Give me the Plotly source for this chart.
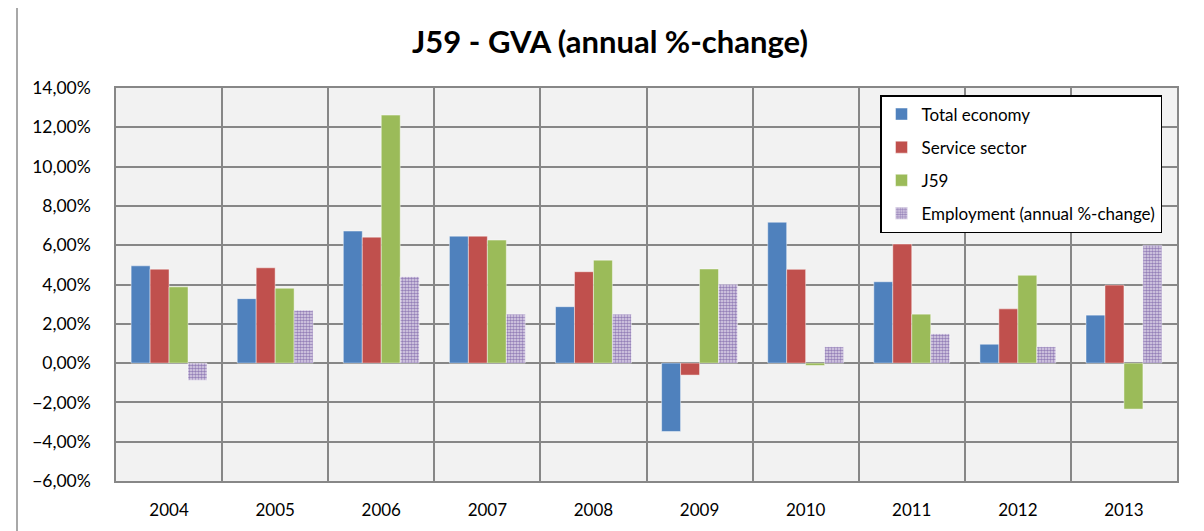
import plotly.graph_objects as go

years = ["2004", "2005", "2006", "2007", "2008", "2009", "2010", "2011", "2012", "2013"]
total_economy = [4.95, 3.28, 6.72, 6.46, 2.87, -3.48, 7.17, 4.14, 0.96, 2.44]
service_sector = [4.78, 4.85, 6.41, 6.46, 4.65, -0.61, 4.77, 6.06, 2.76, 3.97]
j59 = [3.88, 3.81, 12.62, 6.26, 5.24, 4.79, -0.12, 2.49, 4.47, -2.34]
employment = [-0.87, 2.69, 4.40, 2.49, 2.49, 4.01, 0.83, 1.49, 0.83, 6.00]

# page body has an 8px margin in the browser; work in reference pixels minus 8
O = 8
W, H = 1204 - O, 531 - O
L, R, T, B = 116 - O, 1177 - O, 88 - O, 481 - O
GRID = "#878787"
FONT = "Lato"

fig = go.Figure()
series = [
    ("Total economy", total_economy, "#4F81BD"),
    ("Service sector", service_sector, "#C0504D"),
    ("J59", j59, "#9BBB59"),
]
for name, vals, col in series:
    fig.add_trace(go.Bar(
        x=years, y=vals, name=name, legendgroup=name,
        marker=dict(color=col, line=dict(color="rgba(255,255,255,0.45)", width=1)),
    ))
fig.add_trace(go.Bar(
    x=years, y=employment, name="Employment (annual %-change)",
    legendgroup="emp",
    marker=dict(
        color="#D9D0E6",
        line=dict(color="rgba(255,255,255,0.45)", width=1),
        pattern=dict(shape=".", fgcolor="#9580B8", bgcolor="#E2DBEC",
                     size=3, solidity=0.6, fillmode="replace"),
    ),
))

pw = R - L
ph = B - T

fig.update_layout(
    width=W, height=H,
    margin=dict(l=L, r=W - R, t=T, b=H - B, pad=0, autoexpand=False),
    paper_bgcolor="white",
    plot_bgcolor="#F2F2F2",
    barmode="group",
    bargap=0.285,
    bargroupgap=0,
    separators=",.",
    font=dict(family=FONT, size=16, color="black"),
    title=dict(
        text="<b>J59 - GVA (annual %-change)</b>",
        x=602 / W, xanchor="center", xref="container",
        y=1 - (42 - O) / H, yanchor="middle", yref="container",
        font=dict(family=FONT, size=31, color="black"),
    ),
    xaxis=dict(
        type="category", categoryorder="array", categoryarray=years,
        tickson="boundaries", showgrid=True, gridcolor=GRID, gridwidth=1.5,
        showline=True, linecolor=GRID, linewidth=1.5, mirror=True,
        ticks="", ticklabelstandoff=13, automargin=False,
        tickfont=dict(family=FONT, size=17, color="black"),
    ),
    yaxis=dict(
        range=[-6, 14], dtick=2, tick0=0,
        tickformat=".2f", ticksuffix="%",
        showgrid=True, gridcolor=GRID, gridwidth=1.5,
        zeroline=True, zerolinecolor=GRID, zerolinewidth=1.5,
        showline=True, linecolor=GRID, linewidth=1.5, mirror=True,
        ticks="", ticklabelstandoff=20, automargin=False,
        tickfont=dict(family=FONT, size=17.5, color="black"),
    ),
    legend=dict(
        x=(880 - O - L) / pw, xanchor="left",
        y=(B - (95 - O)) / ph, yanchor="top",
        bgcolor="white", bordercolor="black", borderwidth=1.5,
        font=dict(family=FONT, size=17, color="black"),
        tracegroupgap=8,
        itemwidth=30,
    ),
    showlegend=True,
)

fig.add_shape(
    type="rect", xref="paper", yref="paper",
    x0=(17 - O - L) / pw, x1=(W + 10 - L) / pw,
    y0=(B - (H + 10)) / ph, y1=(B - (3 - O)) / ph,
    line=dict(color="#8C8C8C", width=1.5), fillcolor="rgba(0,0,0,0)",
    layer="below",
)

fig.write_html("out.html")
